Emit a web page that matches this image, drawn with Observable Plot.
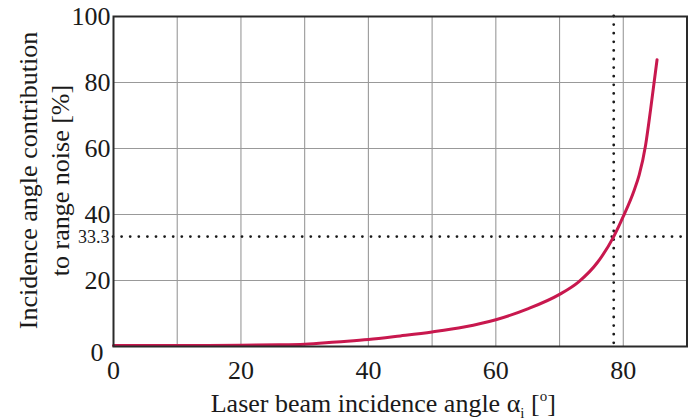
<!DOCTYPE html>
<html>
<head>
<meta charset="utf-8">
<script src="https://cdn.jsdelivr.net/npm/d3@7"></script>
<script src="https://cdn.jsdelivr.net/npm/@observablehq/plot@0.6"></script>
<style>
  html, body { margin: 0; padding: 0; background: #fff; }
</style>
</head>
<body>
<div id="chart"></div>
<script>
// Incidence angle (degrees) and its contribution to range noise (%)
const angle = [0, 10, 20, 26, 30, 35, 40, 45, 50, 55, 60, 65, 70, 73, 76, 78.5, 80, 81.7, 82.5, 83.5, 84.3, 85.3];
const contribution = [0.3, 0.3, 0.4, 0.5, 0.7, 1.4, 2.1, 3.2, 4.4, 5.9, 8.1, 11.4, 15.8, 19.6, 25.6, 33.3, 39.4, 47.3, 52, 61, 72, 86.9];

const xTickValues = [0, 20, 40, 60, 80];
const yTickValues = [20, 40, 60, 80, 100];
const xGridValues = [10, 20, 30, 40, 50, 60, 70, 80];
const yGridValues = [20, 40, 60, 80];
const thresholdY = [33.3];
const thresholdX = [78.5];
const xTitle = "Laser beam incidence angle \u03b1";
const yTitle = "Incidence angle contribution\nto range noise [%]";

const data = angle.map((a, i) => ({angle: a, value: contribution[i]}));

const serif = "'Liberation Serif', 'Times New Roman', serif";
const dotted = {stroke: "#1a1a1a", strokeWidth: 2.8, strokeLinecap: "round", strokeDasharray: "0 8.6"};

const chart = Plot.plot({
  width: 695,
  height: 419,
  marginLeft: 113,
  marginTop: 16,
  marginRight: 8.5,
  marginBottom: 73,
  style: {fontFamily: serif, fontSize: "26px", color: "#1a1a1a", background: "#fff"},
  x: {domain: [0, 90]},
  y: {domain: [0, 100]},
  marks: [
    Plot.gridX(xGridValues, {stroke: "#999", strokeOpacity: 1, strokeWidth: 1.1}),
    Plot.gridY(yGridValues, {stroke: "#999", strokeOpacity: 1, strokeWidth: 1.1}),
    Plot.ruleY(thresholdY, dotted),
    Plot.ruleX(thresholdX, dotted),
    Plot.line(data, {x: "angle", y: "value", stroke: "#c8184e", strokeWidth: 3, curve: "monotone-x"}),
    Plot.frame({stroke: "#2a2a2a", strokeWidth: 2}),
    Plot.axisX(xTickValues, {tickSize: 0, tickPadding: 14, label: null, fontSize: 26, fontFamily: serif}),
    Plot.axisY(yTickValues, {tickSize: 0, tickPadding: 3, label: null, fontSize: 26, fontFamily: serif}),
    Plot.text([0], {x: 0, y: d => d, text: d => String(d), textAnchor: "end", dx: -10, dy: 6, fontSize: 26, fontFamily: serif}),
    Plot.axisY(thresholdY, {tickSize: 0, tickPadding: 4, label: null, fontSize: 18, dy: 1, fontFamily: serif, tickFormat: d => d.toFixed(1)}),
    Plot.text([xTitle], {frameAnchor: "bottom", textAnchor: "middle", dx: -17, dy: 65, fontSize: 26, fontFamily: serif}),
    Plot.text([yTitle], {frameAnchor: "left", textAnchor: "middle", lineAnchor: "middle", rotate: -90, dx: -71, dy: -1, fontSize: 26, lineHeight: 1.23, fontFamily: serif})
  ]
});

// Subscript and degree mark in the x-axis title
d3.select(chart).selectAll("text")
  .filter(function() { return this.textContent === xTitle; })
  .each(function() {
    const t = d3.select(this);
    t.append("tspan").attr("font-size", 15).attr("dy", 6).text("i");
    t.append("tspan").attr("dy", -6).text(" [");
    t.append("tspan").attr("font-size", 15).attr("dy", -11).text("o");
    t.append("tspan").attr("dy", 11).text("]");
  });

document.getElementById("chart").appendChild(chart);
</script>
</body>
</html>
